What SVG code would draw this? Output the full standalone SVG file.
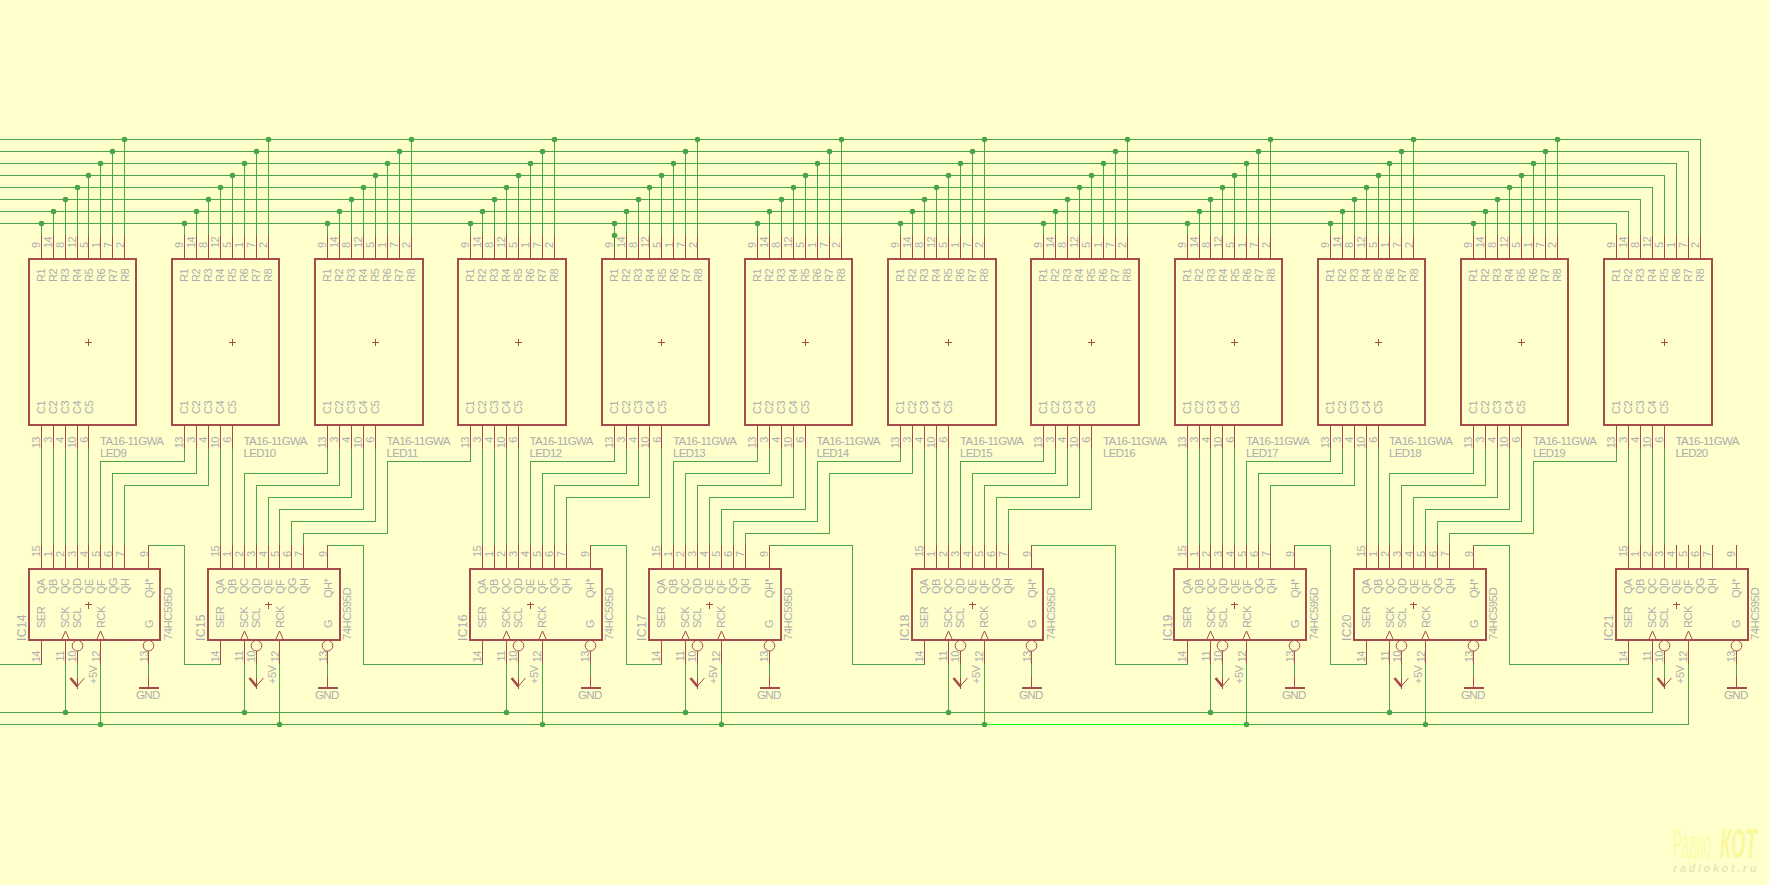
<svg xmlns="http://www.w3.org/2000/svg" width="1769" height="885" viewBox="0 0 1769 885">
<style>
text{font-family:"Liberation Sans",Arial,sans-serif}
.t{fill:#adadad;font-size:11px;letter-spacing:-.5px}
.n{font-size:11.5px;letter-spacing:-.6px}
.d{font-size:12px;letter-spacing:.4px}
.e{text-anchor:end}
.b{fill:none;stroke:#a54b4b;stroke-width:2;shape-rendering:crispEdges}
.p{fill:none;stroke:#a54b4b;stroke-width:1;shape-rendering:crispEdges}
.c{fill:none;stroke:#a54b4b;stroke-width:1}
.h{fill:none;stroke:#a54b4b;stroke-width:2.6}
.w{fill:none;stroke:#4ba54b;stroke-width:1;shape-rendering:crispEdges}
.j{fill:none;stroke:#4ba54b;stroke-width:5.6;stroke-linecap:round}
</style>
<defs>
<path id="cross" class="p" d="M-3 0H4M.5-3V4"/>
<path id="clk" class="c" d="M-4 640L0 631L4 640"/>
<circle id="inv" class="c" cy="645.7" r="5.3"/>
<g id="vcc"><path class="p" d="M0 678V689"/><path class="c" d="M0 686L7 678"/><path class="h" d="M-7 678L0 686.5"/></g>
<g id="gnd"><path class="p" d="M0 677V688"/><path class="b" d="M-10 688H10"/></g>
</defs>
<rect width="1769" height="885" fill="#ffffcc"/>

<g id="LED9"><rect class="b" x="29" y="259" width="107" height="166"/><path class="p" d="M41.5 235V259M53.5 235V259M65.5 235V259M77.5 235V259M88.5 235V259M100.5 235V259M112.5 235V259M124.5 235V259M41.5 425V449M53.5 425V449M65.5 425V449M77.5 425V449M88.5 425V449"/><use href="#cross" x="88" y="342"/><text class="t n" x="100" y="445">TA16-11GWA</text><text class="t n" x="100" y="457">LED9</text><g class="t" transform="translate(41)rotate(-90)"><text x="-248" y="-1.5">9</text><text x="-248" y="10.5">14</text><text x="-248" y="22.5">8</text><text x="-248" y="34.5">12</text><text x="-248" y="46.5">5</text><text x="-248" y="58.5">1</text><text x="-248" y="70.5">7</text><text x="-248" y="82.5">2</text><text x="-282" y="3.5">R1</text><text x="-282" y="15.5">R2</text><text x="-282" y="27.5">R3</text><text x="-282" y="39.5">R4</text><text x="-282" y="51.5">R5</text><text x="-282" y="63.5">R6</text><text x="-282" y="75.5">R7</text><text x="-282" y="87.5">R8</text><text x="-414" y="3.5">C1</text><text x="-414" y="15.5">C2</text><text x="-414" y="27.5">C3</text><text x="-414" y="39.5">C4</text><text x="-414" y="51.5">C5</text><text class="e" x="-437" y="-1.5">13</text><text class="e" x="-437" y="10.5">3</text><text class="e" x="-437" y="22.5">4</text><text class="e" x="-437" y="34.5">10</text><text class="e" x="-437" y="46.5">6</text></g></g>

<g id="LED10"><rect class="b" x="172" y="259" width="107" height="166"/><path class="p" d="M184.5 235V259M196.5 235V259M208.5 235V259M220.5 235V259M232.5 235V259M244.5 235V259M256.5 235V259M268.5 235V259M184.5 425V449M196.5 425V449M208.5 425V449M220.5 425V449M232.5 425V449"/><use href="#cross" x="232" y="342"/><text class="t n" x="243.5" y="445">TA16-11GWA</text><text class="t n" x="243.5" y="457">LED10</text><g class="t" transform="translate(184)rotate(-90)"><text x="-248" y="-1.5">9</text><text x="-248" y="10.5">14</text><text x="-248" y="22.5">8</text><text x="-248" y="34.5">12</text><text x="-248" y="46.5">5</text><text x="-248" y="58.5">1</text><text x="-248" y="70.5">7</text><text x="-248" y="82.5">2</text><text x="-282" y="3.5">R1</text><text x="-282" y="15.5">R2</text><text x="-282" y="27.5">R3</text><text x="-282" y="39.5">R4</text><text x="-282" y="51.5">R5</text><text x="-282" y="63.5">R6</text><text x="-282" y="75.5">R7</text><text x="-282" y="87.5">R8</text><text x="-414" y="3.5">C1</text><text x="-414" y="15.5">C2</text><text x="-414" y="27.5">C3</text><text x="-414" y="39.5">C4</text><text x="-414" y="51.5">C5</text><text class="e" x="-437" y="-1.5">13</text><text class="e" x="-437" y="10.5">3</text><text class="e" x="-437" y="22.5">4</text><text class="e" x="-437" y="34.5">10</text><text class="e" x="-437" y="46.5">6</text></g></g>

<g id="LED11"><rect class="b" x="315" y="259" width="108" height="166"/><path class="p" d="M327.5 235V259M339.5 235V259M351.5 235V259M363.5 235V259M375.5 235V259M387.5 235V259M399.5 235V259M411.5 235V259M327.5 425V449M339.5 425V449M351.5 425V449M363.5 425V449M375.5 425V449"/><use href="#cross" x="375" y="342"/><text class="t n" x="386.5" y="445">TA16-11GWA</text><text class="t n" x="386.5" y="457">LED11</text><g class="t" transform="translate(327)rotate(-90)"><text x="-248" y="-1.5">9</text><text x="-248" y="10.5">14</text><text x="-248" y="22.5">8</text><text x="-248" y="34.5">12</text><text x="-248" y="46.5">5</text><text x="-248" y="58.5">1</text><text x="-248" y="70.5">7</text><text x="-248" y="82.5">2</text><text x="-282" y="3.5">R1</text><text x="-282" y="15.5">R2</text><text x="-282" y="27.5">R3</text><text x="-282" y="39.5">R4</text><text x="-282" y="51.5">R5</text><text x="-282" y="63.5">R6</text><text x="-282" y="75.5">R7</text><text x="-282" y="87.5">R8</text><text x="-414" y="3.5">C1</text><text x="-414" y="15.5">C2</text><text x="-414" y="27.5">C3</text><text x="-414" y="39.5">C4</text><text x="-414" y="51.5">C5</text><text class="e" x="-437" y="-1.5">13</text><text class="e" x="-437" y="10.5">3</text><text class="e" x="-437" y="22.5">4</text><text class="e" x="-437" y="34.5">10</text><text class="e" x="-437" y="46.5">6</text></g></g>

<g id="LED12"><rect class="b" x="458" y="259" width="108" height="166"/><path class="p" d="M470.5 235V259M482.5 235V259M494.5 235V259M506.5 235V259M518.5 235V259M530.5 235V259M542.5 235V259M554.5 235V259M470.5 425V449M482.5 425V449M494.5 425V449M506.5 425V449M518.5 425V449"/><use href="#cross" x="518" y="342"/><text class="t n" x="529.5" y="445">TA16-11GWA</text><text class="t n" x="529.5" y="457">LED12</text><g class="t" transform="translate(470)rotate(-90)"><text x="-248" y="-1.5">9</text><text x="-248" y="10.5">14</text><text x="-248" y="22.5">8</text><text x="-248" y="34.5">12</text><text x="-248" y="46.5">5</text><text x="-248" y="58.5">1</text><text x="-248" y="70.5">7</text><text x="-248" y="82.5">2</text><text x="-282" y="3.5">R1</text><text x="-282" y="15.5">R2</text><text x="-282" y="27.5">R3</text><text x="-282" y="39.5">R4</text><text x="-282" y="51.5">R5</text><text x="-282" y="63.5">R6</text><text x="-282" y="75.5">R7</text><text x="-282" y="87.5">R8</text><text x="-414" y="3.5">C1</text><text x="-414" y="15.5">C2</text><text x="-414" y="27.5">C3</text><text x="-414" y="39.5">C4</text><text x="-414" y="51.5">C5</text><text class="e" x="-437" y="-1.5">13</text><text class="e" x="-437" y="10.5">3</text><text class="e" x="-437" y="22.5">4</text><text class="e" x="-437" y="34.5">10</text><text class="e" x="-437" y="46.5">6</text></g></g>

<g id="LED13"><rect class="b" x="602" y="259" width="107" height="166"/><path class="p" d="M614.5 235V259M626.5 235V259M638.5 235V259M649.5 235V259M661.5 235V259M673.5 235V259M685.5 235V259M697.5 235V259M614.5 425V449M626.5 425V449M638.5 425V449M649.5 425V449M661.5 425V449"/><use href="#cross" x="661" y="342"/><text class="t n" x="673" y="445">TA16-11GWA</text><text class="t n" x="673" y="457">LED13</text><g class="t" transform="translate(614)rotate(-90)"><text x="-248" y="-1.5">9</text><text x="-248" y="10.5">14</text><text x="-248" y="22.5">8</text><text x="-248" y="34.5">12</text><text x="-248" y="46.5">5</text><text x="-248" y="58.5">1</text><text x="-248" y="70.5">7</text><text x="-248" y="82.5">2</text><text x="-282" y="3.5">R1</text><text x="-282" y="15.5">R2</text><text x="-282" y="27.5">R3</text><text x="-282" y="39.5">R4</text><text x="-282" y="51.5">R5</text><text x="-282" y="63.5">R6</text><text x="-282" y="75.5">R7</text><text x="-282" y="87.5">R8</text><text x="-414" y="3.5">C1</text><text x="-414" y="15.5">C2</text><text x="-414" y="27.5">C3</text><text x="-414" y="39.5">C4</text><text x="-414" y="51.5">C5</text><text class="e" x="-437" y="-1.5">13</text><text class="e" x="-437" y="10.5">3</text><text class="e" x="-437" y="22.5">4</text><text class="e" x="-437" y="34.5">10</text><text class="e" x="-437" y="46.5">6</text></g></g>

<g id="LED14"><rect class="b" x="745" y="259" width="107" height="166"/><path class="p" d="M757.5 235V259M769.5 235V259M781.5 235V259M793.5 235V259M805.5 235V259M817.5 235V259M829.5 235V259M841.5 235V259M757.5 425V449M769.5 425V449M781.5 425V449M793.5 425V449M805.5 425V449"/><use href="#cross" x="805" y="342"/><text class="t n" x="816.5" y="445">TA16-11GWA</text><text class="t n" x="816.5" y="457">LED14</text><g class="t" transform="translate(757)rotate(-90)"><text x="-248" y="-1.5">9</text><text x="-248" y="10.5">14</text><text x="-248" y="22.5">8</text><text x="-248" y="34.5">12</text><text x="-248" y="46.5">5</text><text x="-248" y="58.5">1</text><text x="-248" y="70.5">7</text><text x="-248" y="82.5">2</text><text x="-282" y="3.5">R1</text><text x="-282" y="15.5">R2</text><text x="-282" y="27.5">R3</text><text x="-282" y="39.5">R4</text><text x="-282" y="51.5">R5</text><text x="-282" y="63.5">R6</text><text x="-282" y="75.5">R7</text><text x="-282" y="87.5">R8</text><text x="-414" y="3.5">C1</text><text x="-414" y="15.5">C2</text><text x="-414" y="27.5">C3</text><text x="-414" y="39.5">C4</text><text x="-414" y="51.5">C5</text><text class="e" x="-437" y="-1.5">13</text><text class="e" x="-437" y="10.5">3</text><text class="e" x="-437" y="22.5">4</text><text class="e" x="-437" y="34.5">10</text><text class="e" x="-437" y="46.5">6</text></g></g>

<g id="LED15"><rect class="b" x="888" y="259" width="108" height="166"/><path class="p" d="M900.5 235V259M912.5 235V259M924.5 235V259M936.5 235V259M948.5 235V259M960.5 235V259M972.5 235V259M984.5 235V259M900.5 425V449M912.5 425V449M924.5 425V449M936.5 425V449M948.5 425V449"/><use href="#cross" x="948" y="342"/><text class="t n" x="960" y="445">TA16-11GWA</text><text class="t n" x="960" y="457">LED15</text><g class="t" transform="translate(900)rotate(-90)"><text x="-248" y="-1.5">9</text><text x="-248" y="10.5">14</text><text x="-248" y="22.5">8</text><text x="-248" y="34.5">12</text><text x="-248" y="46.5">5</text><text x="-248" y="58.5">1</text><text x="-248" y="70.5">7</text><text x="-248" y="82.5">2</text><text x="-282" y="3.5">R1</text><text x="-282" y="15.5">R2</text><text x="-282" y="27.5">R3</text><text x="-282" y="39.5">R4</text><text x="-282" y="51.5">R5</text><text x="-282" y="63.5">R6</text><text x="-282" y="75.5">R7</text><text x="-282" y="87.5">R8</text><text x="-414" y="3.5">C1</text><text x="-414" y="15.5">C2</text><text x="-414" y="27.5">C3</text><text x="-414" y="39.5">C4</text><text x="-414" y="51.5">C5</text><text class="e" x="-437" y="-1.5">13</text><text class="e" x="-437" y="10.5">3</text><text class="e" x="-437" y="22.5">4</text><text class="e" x="-437" y="34.5">10</text><text class="e" x="-437" y="46.5">6</text></g></g>

<g id="LED16"><rect class="b" x="1031" y="259" width="108" height="166"/><path class="p" d="M1043.5 235V259M1055.5 235V259M1067.5 235V259M1079.5 235V259M1091.5 235V259M1103.5 235V259M1115.5 235V259M1127.5 235V259M1043.5 425V449M1055.5 425V449M1067.5 425V449M1079.5 425V449M1091.5 425V449"/><use href="#cross" x="1091" y="342"/><text class="t n" x="1103" y="445">TA16-11GWA</text><text class="t n" x="1103" y="457">LED16</text><g class="t" transform="translate(1043)rotate(-90)"><text x="-248" y="-1.5">9</text><text x="-248" y="10.5">14</text><text x="-248" y="22.5">8</text><text x="-248" y="34.5">12</text><text x="-248" y="46.5">5</text><text x="-248" y="58.5">1</text><text x="-248" y="70.5">7</text><text x="-248" y="82.5">2</text><text x="-282" y="3.5">R1</text><text x="-282" y="15.5">R2</text><text x="-282" y="27.5">R3</text><text x="-282" y="39.5">R4</text><text x="-282" y="51.5">R5</text><text x="-282" y="63.5">R6</text><text x="-282" y="75.5">R7</text><text x="-282" y="87.5">R8</text><text x="-414" y="3.5">C1</text><text x="-414" y="15.5">C2</text><text x="-414" y="27.5">C3</text><text x="-414" y="39.5">C4</text><text x="-414" y="51.5">C5</text><text class="e" x="-437" y="-1.5">13</text><text class="e" x="-437" y="10.5">3</text><text class="e" x="-437" y="22.5">4</text><text class="e" x="-437" y="34.5">10</text><text class="e" x="-437" y="46.5">6</text></g></g>

<g id="LED17"><rect class="b" x="1175" y="259" width="107" height="166"/><path class="p" d="M1187.5 235V259M1199.5 235V259M1210.5 235V259M1222.5 235V259M1234.5 235V259M1246.5 235V259M1258.5 235V259M1270.5 235V259M1187.5 425V449M1199.5 425V449M1210.5 425V449M1222.5 425V449M1234.5 425V449"/><use href="#cross" x="1234" y="342"/><text class="t n" x="1246" y="445">TA16-11GWA</text><text class="t n" x="1246" y="457">LED17</text><g class="t" transform="translate(1187)rotate(-90)"><text x="-248" y="-1.5">9</text><text x="-248" y="10.5">14</text><text x="-248" y="22.5">8</text><text x="-248" y="34.5">12</text><text x="-248" y="46.5">5</text><text x="-248" y="58.5">1</text><text x="-248" y="70.5">7</text><text x="-248" y="82.5">2</text><text x="-282" y="3.5">R1</text><text x="-282" y="15.5">R2</text><text x="-282" y="27.5">R3</text><text x="-282" y="39.5">R4</text><text x="-282" y="51.5">R5</text><text x="-282" y="63.5">R6</text><text x="-282" y="75.5">R7</text><text x="-282" y="87.5">R8</text><text x="-414" y="3.5">C1</text><text x="-414" y="15.5">C2</text><text x="-414" y="27.5">C3</text><text x="-414" y="39.5">C4</text><text x="-414" y="51.5">C5</text><text class="e" x="-437" y="-1.5">13</text><text class="e" x="-437" y="10.5">3</text><text class="e" x="-437" y="22.5">4</text><text class="e" x="-437" y="34.5">10</text><text class="e" x="-437" y="46.5">6</text></g></g>

<g id="LED18"><rect class="b" x="1318" y="259" width="107" height="166"/><path class="p" d="M1330.5 235V259M1342.5 235V259M1354.5 235V259M1366.5 235V259M1378.5 235V259M1389.5 235V259M1401.5 235V259M1413.5 235V259M1330.5 425V449M1342.5 425V449M1354.5 425V449M1366.5 425V449M1378.5 425V449"/><use href="#cross" x="1378" y="342"/><text class="t n" x="1389" y="445">TA16-11GWA</text><text class="t n" x="1389" y="457">LED18</text><g class="t" transform="translate(1330)rotate(-90)"><text x="-248" y="-1.5">9</text><text x="-248" y="10.5">14</text><text x="-248" y="22.5">8</text><text x="-248" y="34.5">12</text><text x="-248" y="46.5">5</text><text x="-248" y="58.5">1</text><text x="-248" y="70.5">7</text><text x="-248" y="82.5">2</text><text x="-282" y="3.5">R1</text><text x="-282" y="15.5">R2</text><text x="-282" y="27.5">R3</text><text x="-282" y="39.5">R4</text><text x="-282" y="51.5">R5</text><text x="-282" y="63.5">R6</text><text x="-282" y="75.5">R7</text><text x="-282" y="87.5">R8</text><text x="-414" y="3.5">C1</text><text x="-414" y="15.5">C2</text><text x="-414" y="27.5">C3</text><text x="-414" y="39.5">C4</text><text x="-414" y="51.5">C5</text><text class="e" x="-437" y="-1.5">13</text><text class="e" x="-437" y="10.5">3</text><text class="e" x="-437" y="22.5">4</text><text class="e" x="-437" y="34.5">10</text><text class="e" x="-437" y="46.5">6</text></g></g>

<g id="LED19"><rect class="b" x="1461" y="259" width="107" height="166"/><path class="p" d="M1473.5 235V259M1485.5 235V259M1497.5 235V259M1509.5 235V259M1521.5 235V259M1533.5 235V259M1545.5 235V259M1557.5 235V259M1473.5 425V449M1485.5 425V449M1497.5 425V449M1509.5 425V449M1521.5 425V449"/><use href="#cross" x="1521" y="342"/><text class="t n" x="1533" y="445">TA16-11GWA</text><text class="t n" x="1533" y="457">LED19</text><g class="t" transform="translate(1473)rotate(-90)"><text x="-248" y="-1.5">9</text><text x="-248" y="10.5">14</text><text x="-248" y="22.5">8</text><text x="-248" y="34.5">12</text><text x="-248" y="46.5">5</text><text x="-248" y="58.5">1</text><text x="-248" y="70.5">7</text><text x="-248" y="82.5">2</text><text x="-282" y="3.5">R1</text><text x="-282" y="15.5">R2</text><text x="-282" y="27.5">R3</text><text x="-282" y="39.5">R4</text><text x="-282" y="51.5">R5</text><text x="-282" y="63.5">R6</text><text x="-282" y="75.5">R7</text><text x="-282" y="87.5">R8</text><text x="-414" y="3.5">C1</text><text x="-414" y="15.5">C2</text><text x="-414" y="27.5">C3</text><text x="-414" y="39.5">C4</text><text x="-414" y="51.5">C5</text><text class="e" x="-437" y="-1.5">13</text><text class="e" x="-437" y="10.5">3</text><text class="e" x="-437" y="22.5">4</text><text class="e" x="-437" y="34.5">10</text><text class="e" x="-437" y="46.5">6</text></g></g>

<g id="LED20"><rect class="b" x="1604" y="259" width="108" height="166"/><path class="p" d="M1616.5 235V259M1628.5 235V259M1640.5 235V259M1652.5 235V259M1664.5 235V259M1676.5 235V259M1688.5 235V259M1700.5 235V259M1616.5 425V449M1628.5 425V449M1640.5 425V449M1652.5 425V449M1664.5 425V449"/><use href="#cross" x="1664" y="342"/><text class="t n" x="1675.5" y="445">TA16-11GWA</text><text class="t n" x="1675.5" y="457">LED20</text><g class="t" transform="translate(1616)rotate(-90)"><text x="-248" y="-1.5">9</text><text x="-248" y="10.5">14</text><text x="-248" y="22.5">8</text><text x="-248" y="34.5">12</text><text x="-248" y="46.5">5</text><text x="-248" y="58.5">1</text><text x="-248" y="70.5">7</text><text x="-248" y="82.5">2</text><text x="-282" y="3.5">R1</text><text x="-282" y="15.5">R2</text><text x="-282" y="27.5">R3</text><text x="-282" y="39.5">R4</text><text x="-282" y="51.5">R5</text><text x="-282" y="63.5">R6</text><text x="-282" y="75.5">R7</text><text x="-282" y="87.5">R8</text><text x="-414" y="3.5">C1</text><text x="-414" y="15.5">C2</text><text x="-414" y="27.5">C3</text><text x="-414" y="39.5">C4</text><text x="-414" y="51.5">C5</text><text class="e" x="-437" y="-1.5">13</text><text class="e" x="-437" y="10.5">3</text><text class="e" x="-437" y="22.5">4</text><text class="e" x="-437" y="34.5">10</text><text class="e" x="-437" y="46.5">6</text></g></g>

<g id="IC14"><rect class="b" x="29" y="569" width="131" height="71"/><path class="p" d="M41.5 545V569M53.5 545V569M65.5 545V569M77.5 545V569M88.5 545V569M100.5 545V569M112.5 545V569M124.5 545V569M148.5 545V569M41.5 640V664M65.5 640V664M100.5 640V664M77.5 651V664M148.5 651V664"/><use href="#cross" x="88" y="604.5"/><use href="#clk" x="65.5"/><use href="#clk" x="100.5"/><use href="#inv" x="77.5"/><use href="#inv" x="148.5"/><use href="#vcc" x="77.5"/><use href="#gnd" x="148.5"/><text class="t n" x="136" y="699">GND</text><g class="t" transform="translate(41)rotate(-90)"><text x="-557" y="-1.5">15</text><text x="-557" y="10.5">1</text><text x="-557" y="22.5">2</text><text x="-557" y="34.5">3</text><text x="-557" y="46.5">4</text><text x="-557" y="58.5">5</text><text x="-557" y="70.5">6</text><text x="-557" y="82.5">7</text><text x="-557" y="106.5">9</text><text x="-594" y="3.5">QA</text><text x="-594" y="15.5">QB</text><text x="-594" y="27.5">QC</text><text x="-594" y="39.5">QD</text><text x="-594" y="51.5">QE</text><text x="-594" y="63.5">QF</text><text x="-594" y="75.5">QG</text><text x="-594" y="87.5">QH</text><text x="-598" y="111.5">QH*</text><text x="-628" y="3.5">SER</text><text x="-628" y="27.5">SCK</text><text x="-628" y="39.5">SCL</text><text x="-628" y="63.5">RCK</text><text x="-628" y="111.5">G</text><text class="e" x="-651" y="-1.5">14</text><text class="e" x="-651" y="22.5">11</text><text class="e" x="-651" y="34.5">10</text><text class="e" x="-651" y="58.5">12</text><text class="e" x="-651" y="106.5">13</text><text x="-684" y="56">+5V</text><text class="n" x="-640" y="131">74HC595D</text><text class="d" x="-641" y="-15">IC14</text></g></g>

<g id="IC15"><rect class="b" x="208" y="569" width="132" height="71"/><path class="p" d="M220.5 545V569M232.5 545V569M244.5 545V569M256.5 545V569M268.5 545V569M279.5 545V569M291.5 545V569M303.5 545V569M327.5 545V569M220.5 640V664M244.5 640V664M279.5 640V664M256.5 651V664M327.5 651V664"/><use href="#cross" x="268" y="604.5"/><use href="#clk" x="244.5"/><use href="#clk" x="279.5"/><use href="#inv" x="256.5"/><use href="#inv" x="327.5"/><use href="#vcc" x="256.5"/><use href="#gnd" x="327.5"/><text class="t n" x="315" y="699">GND</text><g class="t" transform="translate(220)rotate(-90)"><text x="-557" y="-1.5">15</text><text x="-557" y="10.5">1</text><text x="-557" y="22.5">2</text><text x="-557" y="34.5">3</text><text x="-557" y="46.5">4</text><text x="-557" y="58.5">5</text><text x="-557" y="70.5">6</text><text x="-557" y="82.5">7</text><text x="-557" y="106.5">9</text><text x="-594" y="3.5">QA</text><text x="-594" y="15.5">QB</text><text x="-594" y="27.5">QC</text><text x="-594" y="39.5">QD</text><text x="-594" y="51.5">QE</text><text x="-594" y="63.5">QF</text><text x="-594" y="75.5">QG</text><text x="-594" y="87.5">QH</text><text x="-598" y="111.5">QH*</text><text x="-628" y="3.5">SER</text><text x="-628" y="27.5">SCK</text><text x="-628" y="39.5">SCL</text><text x="-628" y="63.5">RCK</text><text x="-628" y="111.5">G</text><text class="e" x="-651" y="-1.5">14</text><text class="e" x="-651" y="22.5">11</text><text class="e" x="-651" y="34.5">10</text><text class="e" x="-651" y="58.5">12</text><text class="e" x="-651" y="106.5">13</text><text x="-684" y="56">+5V</text><text class="n" x="-640" y="131">74HC595D</text><text class="d" x="-641" y="-15">IC15</text></g></g>

<g id="IC16"><rect class="b" x="470" y="569" width="132" height="71"/><path class="p" d="M482.5 545V569M494.5 545V569M506.5 545V569M518.5 545V569M530.5 545V569M542.5 545V569M554.5 545V569M566.5 545V569M590.5 545V569M482.5 640V664M506.5 640V664M542.5 640V664M518.5 651V664M590.5 651V664"/><use href="#cross" x="530" y="604.5"/><use href="#clk" x="506.5"/><use href="#clk" x="542.5"/><use href="#inv" x="518.5"/><use href="#inv" x="590.5"/><use href="#vcc" x="518.5"/><use href="#gnd" x="590.5"/><text class="t n" x="578" y="699">GND</text><g class="t" transform="translate(482)rotate(-90)"><text x="-557" y="-1.5">15</text><text x="-557" y="10.5">1</text><text x="-557" y="22.5">2</text><text x="-557" y="34.5">3</text><text x="-557" y="46.5">4</text><text x="-557" y="58.5">5</text><text x="-557" y="70.5">6</text><text x="-557" y="82.5">7</text><text x="-557" y="106.5">9</text><text x="-594" y="3.5">QA</text><text x="-594" y="15.5">QB</text><text x="-594" y="27.5">QC</text><text x="-594" y="39.5">QD</text><text x="-594" y="51.5">QE</text><text x="-594" y="63.5">QF</text><text x="-594" y="75.5">QG</text><text x="-594" y="87.5">QH</text><text x="-598" y="111.5">QH*</text><text x="-628" y="3.5">SER</text><text x="-628" y="27.5">SCK</text><text x="-628" y="39.5">SCL</text><text x="-628" y="63.5">RCK</text><text x="-628" y="111.5">G</text><text class="e" x="-651" y="-1.5">14</text><text class="e" x="-651" y="22.5">11</text><text class="e" x="-651" y="34.5">10</text><text class="e" x="-651" y="58.5">12</text><text class="e" x="-651" y="106.5">13</text><text x="-684" y="56">+5V</text><text class="n" x="-640" y="131">74HC595D</text><text class="d" x="-641" y="-15">IC16</text></g></g>

<g id="IC17"><rect class="b" x="649" y="569" width="132" height="71"/><path class="p" d="M661.5 545V569M673.5 545V569M685.5 545V569M697.5 545V569M709.5 545V569M721.5 545V569M733.5 545V569M745.5 545V569M769.5 545V569M661.5 640V664M685.5 640V664M721.5 640V664M697.5 651V664M769.5 651V664"/><use href="#cross" x="709" y="604.5"/><use href="#clk" x="685.5"/><use href="#clk" x="721.5"/><use href="#inv" x="697.5"/><use href="#inv" x="769.5"/><use href="#vcc" x="697.5"/><use href="#gnd" x="769.5"/><text class="t n" x="757" y="699">GND</text><g class="t" transform="translate(661)rotate(-90)"><text x="-557" y="-1.5">15</text><text x="-557" y="10.5">1</text><text x="-557" y="22.5">2</text><text x="-557" y="34.5">3</text><text x="-557" y="46.5">4</text><text x="-557" y="58.5">5</text><text x="-557" y="70.5">6</text><text x="-557" y="82.5">7</text><text x="-557" y="106.5">9</text><text x="-594" y="3.5">QA</text><text x="-594" y="15.5">QB</text><text x="-594" y="27.5">QC</text><text x="-594" y="39.5">QD</text><text x="-594" y="51.5">QE</text><text x="-594" y="63.5">QF</text><text x="-594" y="75.5">QG</text><text x="-594" y="87.5">QH</text><text x="-598" y="111.5">QH*</text><text x="-628" y="3.5">SER</text><text x="-628" y="27.5">SCK</text><text x="-628" y="39.5">SCL</text><text x="-628" y="63.5">RCK</text><text x="-628" y="111.5">G</text><text class="e" x="-651" y="-1.5">14</text><text class="e" x="-651" y="22.5">11</text><text class="e" x="-651" y="34.5">10</text><text class="e" x="-651" y="58.5">12</text><text class="e" x="-651" y="106.5">13</text><text x="-684" y="56">+5V</text><text class="n" x="-640" y="131">74HC595D</text><text class="d" x="-641" y="-15">IC17</text></g></g>

<g id="IC18"><rect class="b" x="912" y="569" width="131" height="71"/><path class="p" d="M924.5 545V569M936.5 545V569M948.5 545V569M960.5 545V569M972.5 545V569M984.5 545V569M996.5 545V569M1008.5 545V569M1031.5 545V569M924.5 640V664M948.5 640V664M984.5 640V664M960.5 651V664M1031.5 651V664"/><use href="#cross" x="972" y="604.5"/><use href="#clk" x="948.5"/><use href="#clk" x="984.5"/><use href="#inv" x="960.5"/><use href="#inv" x="1031.5"/><use href="#vcc" x="960.5"/><use href="#gnd" x="1031.5"/><text class="t n" x="1019" y="699">GND</text><g class="t" transform="translate(924)rotate(-90)"><text x="-557" y="-1.5">15</text><text x="-557" y="10.5">1</text><text x="-557" y="22.5">2</text><text x="-557" y="34.5">3</text><text x="-557" y="46.5">4</text><text x="-557" y="58.5">5</text><text x="-557" y="70.5">6</text><text x="-557" y="82.5">7</text><text x="-557" y="106.5">9</text><text x="-594" y="3.5">QA</text><text x="-594" y="15.5">QB</text><text x="-594" y="27.5">QC</text><text x="-594" y="39.5">QD</text><text x="-594" y="51.5">QE</text><text x="-594" y="63.5">QF</text><text x="-594" y="75.5">QG</text><text x="-594" y="87.5">QH</text><text x="-598" y="111.5">QH*</text><text x="-628" y="3.5">SER</text><text x="-628" y="27.5">SCK</text><text x="-628" y="39.5">SCL</text><text x="-628" y="63.5">RCK</text><text x="-628" y="111.5">G</text><text class="e" x="-651" y="-1.5">14</text><text class="e" x="-651" y="22.5">11</text><text class="e" x="-651" y="34.5">10</text><text class="e" x="-651" y="58.5">12</text><text class="e" x="-651" y="106.5">13</text><text x="-684" y="56">+5V</text><text class="n" x="-640" y="131">74HC595D</text><text class="d" x="-641" y="-15">IC18</text></g></g>

<g id="IC19"><rect class="b" x="1174" y="569" width="132" height="71"/><path class="p" d="M1187.5 545V569M1199.5 545V569M1210.5 545V569M1222.5 545V569M1234.5 545V569M1246.5 545V569M1258.5 545V569M1270.5 545V569M1294.5 545V569M1187.5 640V664M1210.5 640V664M1246.5 640V664M1222.5 651V664M1294.5 651V664"/><use href="#cross" x="1234" y="604.5"/><use href="#clk" x="1210.5"/><use href="#clk" x="1246.5"/><use href="#inv" x="1222.5"/><use href="#inv" x="1294.5"/><use href="#vcc" x="1222.5"/><use href="#gnd" x="1294.5"/><text class="t n" x="1282" y="699">GND</text><g class="t" transform="translate(1187)rotate(-90)"><text x="-557" y="-1.5">15</text><text x="-557" y="10.5">1</text><text x="-557" y="22.5">2</text><text x="-557" y="34.5">3</text><text x="-557" y="46.5">4</text><text x="-557" y="58.5">5</text><text x="-557" y="70.5">6</text><text x="-557" y="82.5">7</text><text x="-557" y="106.5">9</text><text x="-594" y="3.5">QA</text><text x="-594" y="15.5">QB</text><text x="-594" y="27.5">QC</text><text x="-594" y="39.5">QD</text><text x="-594" y="51.5">QE</text><text x="-594" y="63.5">QF</text><text x="-594" y="75.5">QG</text><text x="-594" y="87.5">QH</text><text x="-598" y="111.5">QH*</text><text x="-628" y="3.5">SER</text><text x="-628" y="27.5">SCK</text><text x="-628" y="39.5">SCL</text><text x="-628" y="63.5">RCK</text><text x="-628" y="111.5">G</text><text class="e" x="-651" y="-1.5">14</text><text class="e" x="-651" y="22.5">11</text><text class="e" x="-651" y="34.5">10</text><text class="e" x="-651" y="58.5">12</text><text class="e" x="-651" y="106.5">13</text><text x="-684" y="56">+5V</text><text class="n" x="-640" y="131">74HC595D</text><text class="d" x="-641" y="-15">IC19</text></g></g>

<g id="IC20"><rect class="b" x="1354" y="569" width="132" height="71"/><path class="p" d="M1366.5 545V569M1378.5 545V569M1389.5 545V569M1401.5 545V569M1413.5 545V569M1425.5 545V569M1437.5 545V569M1449.5 545V569M1473.5 545V569M1366.5 640V664M1389.5 640V664M1425.5 640V664M1401.5 651V664M1473.5 651V664"/><use href="#cross" x="1413" y="604.5"/><use href="#clk" x="1389.5"/><use href="#clk" x="1425.5"/><use href="#inv" x="1401.5"/><use href="#inv" x="1473.5"/><use href="#vcc" x="1401.5"/><use href="#gnd" x="1473.5"/><text class="t n" x="1461" y="699">GND</text><g class="t" transform="translate(1366)rotate(-90)"><text x="-557" y="-1.5">15</text><text x="-557" y="10.5">1</text><text x="-557" y="22.5">2</text><text x="-557" y="34.5">3</text><text x="-557" y="46.5">4</text><text x="-557" y="58.5">5</text><text x="-557" y="70.5">6</text><text x="-557" y="82.5">7</text><text x="-557" y="106.5">9</text><text x="-594" y="3.5">QA</text><text x="-594" y="15.5">QB</text><text x="-594" y="27.5">QC</text><text x="-594" y="39.5">QD</text><text x="-594" y="51.5">QE</text><text x="-594" y="63.5">QF</text><text x="-594" y="75.5">QG</text><text x="-594" y="87.5">QH</text><text x="-598" y="111.5">QH*</text><text x="-628" y="3.5">SER</text><text x="-628" y="27.5">SCK</text><text x="-628" y="39.5">SCL</text><text x="-628" y="63.5">RCK</text><text x="-628" y="111.5">G</text><text class="e" x="-651" y="-1.5">14</text><text class="e" x="-651" y="22.5">11</text><text class="e" x="-651" y="34.5">10</text><text class="e" x="-651" y="58.5">12</text><text class="e" x="-651" y="106.5">13</text><text x="-684" y="56">+5V</text><text class="n" x="-640" y="131">74HC595D</text><text class="d" x="-641" y="-15">IC20</text></g></g>

<g id="IC21"><rect class="b" x="1616" y="569" width="132" height="71"/><path class="p" d="M1628.5 545V569M1640.5 545V569M1652.5 545V569M1664.5 545V569M1676.5 545V569M1688.5 545V569M1700.5 545V569M1712.5 545V569M1736.5 545V569M1628.5 640V664M1652.5 640V664M1688.5 640V664M1664.5 651V664M1736.5 651V664"/><use href="#cross" x="1676" y="604.5"/><use href="#clk" x="1652.5"/><use href="#clk" x="1688.5"/><use href="#inv" x="1664.5"/><use href="#inv" x="1736.5"/><use href="#vcc" x="1664.5"/><use href="#gnd" x="1736.5"/><text class="t n" x="1724" y="699">GND</text><g class="t" transform="translate(1628)rotate(-90)"><text x="-557" y="-1.5">15</text><text x="-557" y="10.5">1</text><text x="-557" y="22.5">2</text><text x="-557" y="34.5">3</text><text x="-557" y="46.5">4</text><text x="-557" y="58.5">5</text><text x="-557" y="70.5">6</text><text x="-557" y="82.5">7</text><text x="-557" y="106.5">9</text><text x="-594" y="3.5">QA</text><text x="-594" y="15.5">QB</text><text x="-594" y="27.5">QC</text><text x="-594" y="39.5">QD</text><text x="-594" y="51.5">QE</text><text x="-594" y="63.5">QF</text><text x="-594" y="75.5">QG</text><text x="-594" y="87.5">QH</text><text x="-598" y="111.5">QH*</text><text x="-628" y="3.5">SER</text><text x="-628" y="27.5">SCK</text><text x="-628" y="39.5">SCL</text><text x="-628" y="63.5">RCK</text><text x="-628" y="111.5">G</text><text class="e" x="-651" y="-1.5">14</text><text class="e" x="-651" y="22.5">11</text><text class="e" x="-651" y="34.5">10</text><text class="e" x="-651" y="58.5">12</text><text class="e" x="-651" y="106.5">13</text><text x="-684" y="56">+5V</text><text class="n" x="-640" y="131">74HC595D</text><text class="d" x="-641" y="-15">IC21</text></g></g>

<g id="connectors">
<g id="row-buses">
<path class="w" d="M0 139.5H1700.5V235"/><path class="w" d="M0 151.5H1688.5V235"/><path class="w" d="M0 163.5H1676.5V235"/><path class="w" d="M0 175.5H1664.5V235"/><path class="w" d="M0 187.5H1652.5V235"/><path class="w" d="M0 199.5H1640.5V235"/><path class="w" d="M0 211.5H1628.5V235"/><path class="w" d="M0 223.5H1616.5V235"/>
</g>
<g id="row-taps">
<path class="w" d="M41.5 223.5V235M53.5 211.5V235M65.5 199.5V235M77.5 187.5V235M88.5 175.5V235M100.5 163.5V235M112.5 151.5V235M124.5 139.5V235"/>
<path class="w" d="M184.5 223.5V235M196.5 211.5V235M208.5 199.5V235M220.5 187.5V235M232.5 175.5V235M244.5 163.5V235M256.5 151.5V235M268.5 139.5V235"/>
<path class="w" d="M327.5 223.5V235M339.5 211.5V235M351.5 199.5V235M363.5 187.5V235M375.5 175.5V235M387.5 163.5V235M399.5 151.5V235M411.5 139.5V235"/>
<path class="w" d="M470.5 223.5V235M482.5 211.5V235M494.5 199.5V235M506.5 187.5V235M518.5 175.5V235M530.5 163.5V235M542.5 151.5V235M554.5 139.5V235"/>
<path class="w" d="M614.5 223.5V235M626.5 211.5V235M638.5 199.5V235M649.5 187.5V235M661.5 175.5V235M673.5 163.5V235M685.5 151.5V235M697.5 139.5V235"/>
<path class="w" d="M757.5 223.5V235M769.5 211.5V235M781.5 199.5V235M793.5 187.5V235M805.5 175.5V235M817.5 163.5V235M829.5 151.5V235M841.5 139.5V235"/>
<path class="w" d="M900.5 223.5V235M912.5 211.5V235M924.5 199.5V235M936.5 187.5V235M948.5 175.5V235M960.5 163.5V235M972.5 151.5V235M984.5 139.5V235"/>
<path class="w" d="M1043.5 223.5V235M1055.5 211.5V235M1067.5 199.5V235M1079.5 187.5V235M1091.5 175.5V235M1103.5 163.5V235M1115.5 151.5V235M1127.5 139.5V235"/>
<path class="w" d="M1187.5 223.5V235M1199.5 211.5V235M1210.5 199.5V235M1222.5 187.5V235M1234.5 175.5V235M1246.5 163.5V235M1258.5 151.5V235M1270.5 139.5V235"/>
<path class="w" d="M1330.5 223.5V235M1342.5 211.5V235M1354.5 199.5V235M1366.5 187.5V235M1378.5 175.5V235M1389.5 163.5V235M1401.5 151.5V235M1413.5 139.5V235"/>
<path class="w" d="M1473.5 223.5V235M1485.5 211.5V235M1497.5 199.5V235M1509.5 187.5V235M1521.5 175.5V235M1533.5 163.5V235M1545.5 151.5V235M1557.5 139.5V235"/>
<path d="M614.5 235V247" fill="none" stroke="#2f7f2f" shape-rendering="crispEdges"/>
</g>
<g id="straight-columns">
<path class="w" d="M41.5 449V545M53.5 449V545M65.5 449V545M77.5 449V545M88.5 449V545M220.5 449V545M232.5 449V545M482.5 449V545M494.5 449V545M506.5 449V545M518.5 449V545M661.5 449V545M924.5 449V545M936.5 449V545M948.5 449V545M1187.5 449V545M1199.5 449V545M1210.5 449V545M1222.5 449V545M1234.5 449V545M1366.5 449V545M1378.5 449V545M1628.5 449V545M1640.5 449V545M1652.5 449V545M1664.5 449V545"/>
</g>
<g id="bent-columns">
<path class="w" d="M100.5 545V461.5H184.5V449"/><path class="w" d="M112.5 545V473.5H196.5V449"/><path class="w" d="M124.5 545V485.5H208.5V449"/>
<path class="w" d="M244.5 545V473.5H327.5V449"/><path class="w" d="M256.5 545V485.5H339.5V449"/><path class="w" d="M268.5 545V497.5H351.5V449"/><path class="w" d="M279.5 545V509.5H363.5V449"/><path class="w" d="M291.5 545V521.5H375.5V449"/><path class="w" d="M303.5 545V533.5H387.5V461.5H470.5V449"/>
<path class="w" d="M530.5 545V461.5H614.5V449"/><path class="w" d="M542.5 545V473.5H626.5V449"/><path class="w" d="M554.5 545V485.5H638.5V449"/><path class="w" d="M566.5 545V497.5H649.5V449"/>
<path class="w" d="M673.5 545V461.5H757.5V449"/><path class="w" d="M685.5 545V473.5H769.5V449"/><path class="w" d="M697.5 545V485.5H781.5V449"/><path class="w" d="M709.5 545V497.5H793.5V449"/><path class="w" d="M721.5 545V509.5H805.5V449"/><path class="w" d="M733.5 545V521.5H817.5V461.5H900.5V449"/><path class="w" d="M745.5 545V533.5H829.5V473.5H912.5V449"/>
<path class="w" d="M960.5 545V461.5H1043.5V449"/><path class="w" d="M972.5 545V473.5H1055.5V449"/><path class="w" d="M984.5 545V485.5H1067.5V449"/><path class="w" d="M996.5 545V497.5H1079.5V449"/><path class="w" d="M1008.5 545V509.5H1091.5V449"/>
<path class="w" d="M1246.5 545V461.5H1330.5V449"/><path class="w" d="M1258.5 545V473.5H1342.5V449"/><path class="w" d="M1270.5 545V485.5H1354.5V449"/>
<path class="w" d="M1389.5 545V473.5H1473.5V449"/><path class="w" d="M1401.5 545V485.5H1485.5V449"/><path class="w" d="M1413.5 545V497.5H1497.5V449"/><path class="w" d="M1425.5 545V509.5H1509.5V449"/><path class="w" d="M1437.5 545V521.5H1521.5V449"/><path class="w" d="M1449.5 545V533.5H1533.5V461.5H1616.5V449"/>
</g>
<g id="serial-chain">
<path class="w" d="M0 664.5H41.5"/>
<path class="w" d="M148.5 545.5H184.5V664.5H220.5"/>
<path class="w" d="M327.5 545.5H363.5V664.5H482.5"/>
<path class="w" d="M590.5 545.5H626.5V664.5H661.5"/>
<path class="w" d="M769.5 545.5H852.5V664.5H924.5"/>
<path class="w" d="M1031.5 545.5H1115.5V664.5H1187.5"/>
<path class="w" d="M1294.5 545.5H1330.5V664.5H1366.5"/>
<path class="w" d="M1473.5 545.5H1509.5V664.5H1628.5"/>
</g>
<g id="clock-buses">
<path class="w" d="M0 712.5H1652.5V664"/>
<path class="w" d="M0 724.5H1688.5V664"/>
<path d="M984.5 724.5H1246.5" fill="none" stroke="#00ff00" shape-rendering="crispEdges"/>
<path class="w" d="M65.5 664V712M100.5 664V724M244.5 664V712M279.5 664V724M506.5 664V712M542.5 664V724M685.5 664V712M721.5 664V724M948.5 664V712M984.5 664V724M1210.5 664V712M1246.5 664V724M1389.5 664V712M1425.5 664V724"/>
</g>
<g id="supply-stubs">
<path class="w" d="M77.5 664V678M148.5 664V677M256.5 664V678M327.5 664V677M518.5 664V678M590.5 664V677M697.5 664V678M769.5 664V677M960.5 664V678M1031.5 664V677M1222.5 664V678M1294.5 664V677M1401.5 664V678M1473.5 664V677M1664.5 664V678M1736.5 664V677"/>
</g>
<g id="junctions">
<path class="j" d="M41.5 223.5h0M53.5 211.5h0M65.5 199.5h0M77.5 187.5h0M88.5 175.5h0M100.5 163.5h0M112.5 151.5h0M124.5 139.5h0M184.5 223.5h0M196.5 211.5h0M208.5 199.5h0M220.5 187.5h0M232.5 175.5h0M244.5 163.5h0M256.5 151.5h0M268.5 139.5h0M327.5 223.5h0M339.5 211.5h0M351.5 199.5h0M363.5 187.5h0M375.5 175.5h0M387.5 163.5h0M399.5 151.5h0M411.5 139.5h0M470.5 223.5h0M482.5 211.5h0M494.5 199.5h0M506.5 187.5h0M518.5 175.5h0M530.5 163.5h0M542.5 151.5h0M554.5 139.5h0M614.5 235.5h0M614.5 223.5h0M626.5 211.5h0M638.5 199.5h0M649.5 187.5h0M661.5 175.5h0M673.5 163.5h0M685.5 151.5h0M697.5 139.5h0M757.5 223.5h0M769.5 211.5h0M781.5 199.5h0M793.5 187.5h0M805.5 175.5h0M817.5 163.5h0M829.5 151.5h0M841.5 139.5h0M900.5 223.5h0M912.5 211.5h0M924.5 199.5h0M936.5 187.5h0M948.5 175.5h0M960.5 163.5h0M972.5 151.5h0M984.5 139.5h0M1043.5 223.5h0M1055.5 211.5h0M1067.5 199.5h0M1079.5 187.5h0M1091.5 175.5h0M1103.5 163.5h0M1115.5 151.5h0M1127.5 139.5h0M1187.5 223.5h0M1199.5 211.5h0M1210.5 199.5h0M1222.5 187.5h0M1234.5 175.5h0M1246.5 163.5h0M1258.5 151.5h0M1270.5 139.5h0M1330.5 223.5h0M1342.5 211.5h0M1354.5 199.5h0M1366.5 187.5h0M1378.5 175.5h0M1389.5 163.5h0M1401.5 151.5h0M1413.5 139.5h0M1473.5 223.5h0M1485.5 211.5h0M1497.5 199.5h0M1509.5 187.5h0M1521.5 175.5h0M1533.5 163.5h0M1545.5 151.5h0M1557.5 139.5h0"/>
<path class="j" d="M65.5 712.5h0M100.5 724.5h0M244.5 712.5h0M279.5 724.5h0M506.5 712.5h0M542.5 724.5h0M685.5 712.5h0M721.5 724.5h0M948.5 712.5h0M984.5 724.5h0M1210.5 712.5h0M1246.5 724.5h0M1389.5 712.5h0M1425.5 724.5h0"/>
</g>
</g>

<g id="watermark">
<text transform="translate(1673,858) scale(.33,1)" font-size="40" fill="#fbfba6">Радио</text>
<text transform="translate(1720,858) scale(.44,1)" font-size="42" font-style="italic" font-weight="bold" fill="#f9f99c">КОТ</text>
<text x="1673" y="872" font-size="11" font-style="italic" font-weight="bold" fill="#e6e6b2" letter-spacing="2.6">radiokot.ru</text>
</g>
</svg>
